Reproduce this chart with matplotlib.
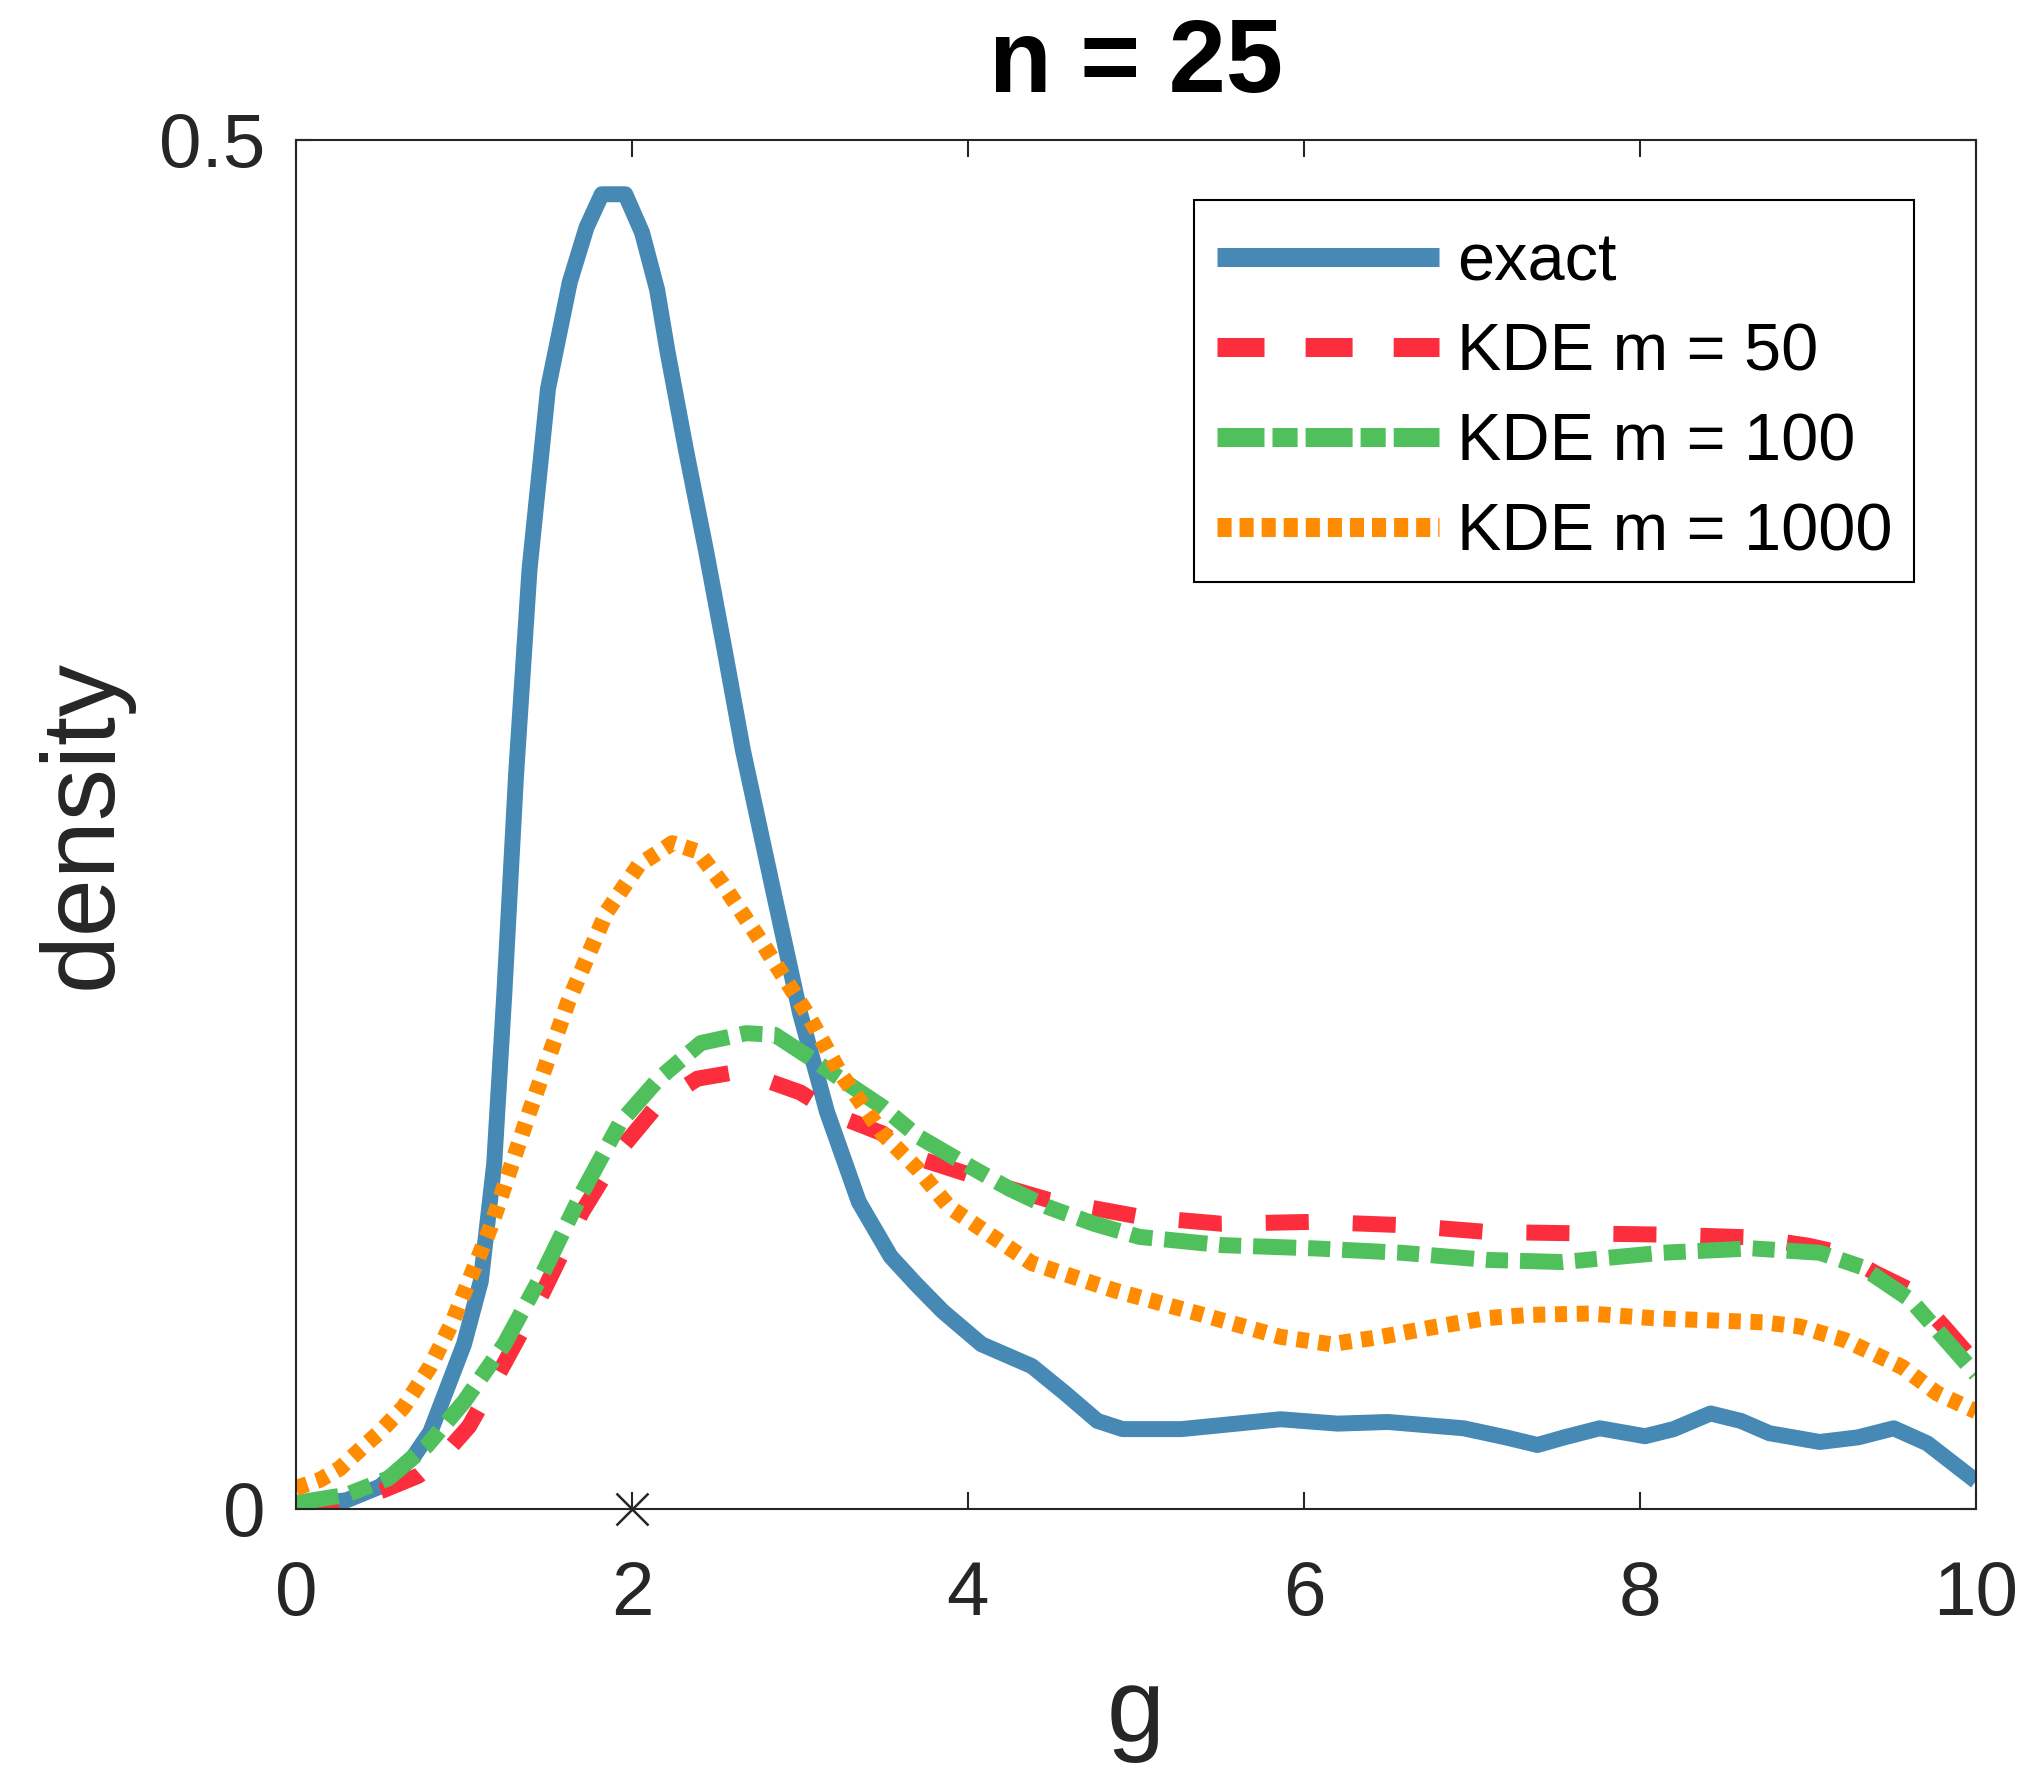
import matplotlib
matplotlib.use("Agg")
import matplotlib.pyplot as plt
from matplotlib.lines import Line2D
from matplotlib.patches import Rectangle

plt.rcParams['font.family'] = ['Liberation Sans', 'DejaVu Sans']

# ---------------- data ----------------
exact_x = [0, 0.3, 0.5, 0.7, 0.8, 0.9, 1.0, 1.1, 1.18, 1.24, 1.31, 1.39, 1.5, 1.63,
           1.73, 1.82, 1.96, 2.06, 2.15, 2.21, 2.32, 2.44, 2.55, 2.66, 2.85, 3.0,
           3.16, 3.35, 3.54, 3.69, 3.85, 4.08, 4.38, 4.58, 4.77, 4.92, 5.27, 5.6,
           5.86, 6.2, 6.5, 6.95, 7.2, 7.39, 7.55, 7.76, 8.03, 8.2, 8.42, 8.6, 8.77,
           9.07, 9.3, 9.51, 9.71, 10]
exact_y = [0.001, 0.003, 0.008, 0.019, 0.028, 0.044, 0.060, 0.083, 0.126, 0.188,
           0.268, 0.343, 0.409, 0.448, 0.468, 0.480, 0.480, 0.466, 0.445, 0.423,
           0.387, 0.350, 0.314, 0.277, 0.223, 0.181, 0.145, 0.112, 0.092, 0.082,
           0.072, 0.060, 0.052, 0.042, 0.032, 0.029, 0.029, 0.031, 0.0326, 0.031,
           0.0316, 0.0293, 0.026, 0.0232, 0.026, 0.0293, 0.0264, 0.029, 0.0347,
           0.032, 0.0275, 0.0243, 0.026, 0.0293, 0.0238, 0.010]

kde50_x = [0, 0.3, 0.52, 0.73, 0.9, 1.03, 1.24, 1.47, 1.70, 1.93, 2.16, 2.39, 2.58,
           2.77, 3.0, 3.24, 3.49, 3.7, 3.98, 4.24, 4.48, 5.02, 5.51, 6.06, 6.58,
           7.09, 7.64, 8.16, 8.67, 9.0, 9.19, 9.4, 9.61, 9.8, 10]
kde50_y = [0.0, 0.002, 0.0067, 0.012, 0.021, 0.030, 0.053, 0.079, 0.108, 0.131,
           0.148, 0.157, 0.159, 0.157, 0.152, 0.143, 0.137, 0.128, 0.1225, 0.117,
           0.1127, 0.1066, 0.104, 0.1047, 0.1035, 0.101, 0.1005, 0.100, 0.099,
           0.096, 0.0934, 0.086, 0.0797, 0.067, 0.053]

kde100_x = [0, 0.3, 0.55, 0.78, 1.0, 1.24, 1.47, 1.70, 1.93, 2.16, 2.41, 2.68, 2.85,
            3.05, 3.24, 3.49, 3.7, 3.98, 4.24, 4.48, 4.75, 5.02, 5.51, 6.06, 6.58,
            7.09, 7.54, 8.13, 8.67, 9.07, 9.32, 9.61, 10]
kde100_y = [0.002, 0.005, 0.011, 0.023, 0.039, 0.060, 0.086, 0.115, 0.141, 0.157,
            0.170, 0.1736, 0.173, 0.165, 0.157, 0.1467, 0.136, 0.126, 0.117, 0.110,
            0.104, 0.0992, 0.0962, 0.095, 0.0934, 0.0908, 0.090, 0.0934, 0.095,
            0.0934, 0.0882, 0.0762, 0.049]

kde1000_x = [0, 0.14, 0.26, 0.39, 0.5, 0.64, 0.8, 0.93, 1.16, 1.39, 1.62, 1.85, 2.04,
             2.24, 2.39, 2.54, 2.77, 3.05, 3.24, 3.49, 3.7, 3.89, 4.38, 4.87, 5.37,
             5.86, 6.16, 6.46, 6.75, 7.08, 7.34, 7.7, 8.08, 8.73, 8.95, 9.22, 9.56,
             9.77, 10]
kde1000_y = [0.0075, 0.0104, 0.0146, 0.022, 0.028, 0.037, 0.052, 0.068, 0.103, 0.145,
             0.185, 0.218, 0.235, 0.243, 0.240, 0.228, 0.207, 0.180, 0.159, 0.137,
             0.124, 0.110, 0.0896, 0.0797, 0.0712, 0.0627, 0.060, 0.0627, 0.066,
             0.0695, 0.0707, 0.0712, 0.0695, 0.068, 0.0665, 0.0615, 0.0517, 0.042,
             0.0355]

true_g = [2.0]
true_density = [0.0]

labels = ['exact', 'KDE m = 50', 'KDE m = 100', 'KDE m = 1000']
title = 'n = 25'
xticks = [0, 2, 4, 6, 8, 10]
yticks = [0, 0.5]
ytick_labels = ['0', '0.5']

# ---------------- style ----------------
c_blue = '#4689B4'
c_red = '#FC2D3C'
c_green = '#50C05C'
c_orange = '#FF8C00'
ink = '#262626'

LW = 11.5          # pt
LW_LEG = 13.7      # pt (≈19 px)
s = 10.8 / LW      # keep dash lengths in pixels as measured

fig = plt.figure(figsize=(20.25, 17.7), dpi=100)
ax = fig.add_axes([296 / 2025, 1 - 1508.5 / 1770, 1680 / 2025, 1369 / 1770])

ax.plot(exact_x, exact_y, color=c_blue, lw=LW, solid_joinstyle='round',
        solid_capstyle='butt')
ax.plot(kde50_x, kde50_y, color=c_red, lw=LW, dashes=(2.87 * s, 2.93 * s),
        dash_capstyle='butt')
ax.plot(kde100_x, kde100_y, color=c_green, lw=LW,
        dashes=(2.87 * s, 0.8 * s, 1.47 * s, 0.8 * s), dash_capstyle='butt')
ax.plot(kde1000_x, kde1000_y, color=c_orange, lw=LW, dashes=(0.8 * s, 0.65 * s),
        dash_capstyle='butt')
ax.plot(true_g, true_density, linestyle='none', marker='x', ms=23, mew=1.8,
        color=ink, clip_on=False, zorder=6)

ax.set_xlim(0, 10)
ax.set_ylim(0, 0.5)
ax.set_xticks(xticks)
ax.set_yticks(yticks)
ax.set_yticklabels(ytick_labels)

for sp in ax.spines.values():
    sp.set_color(ink)
    sp.set_linewidth(1.5)
ax.tick_params(direction='in', length=12.5, width=1.5, color=ink, top=True,
               right=True, labelsize=55, labelcolor=ink)
ax.tick_params(axis='x', pad=37)
ax.tick_params(axis='y', pad=22)

ax.set_title(title, fontsize=74, fontweight='bold', pad=34)
ax.set_xlabel('g', fontsize=75, color=ink)
ax.set_ylabel('density', fontsize=75, color=ink)
ax.xaxis.set_label_coords(0.5, -0.115)
ax.yaxis.set_label_coords(-0.097, 0.5)

# legend frame (drawn separately so the entries can sit where the reference has them)
fx0, fx1 = 898 / 1680, 1618 / 1680
fy1, fy0 = 1308.5 / 1369, 926.5 / 1369
ax.add_patch(Rectangle((fx0, fy0), fx1 - fx0, fy1 - fy0, transform=ax.transAxes,
                       facecolor='white', edgecolor='black', linewidth=1.5,
                       zorder=4.5))

handles = [
    Line2D([], [], color=c_blue, lw=LW_LEG, solid_capstyle='butt'),
    Line2D([], [], color=c_red, lw=LW_LEG, dashes=(2.47, 2.16), dash_capstyle='butt'),
    Line2D([], [], color=c_green, lw=LW_LEG, dashes=(2.47, 0.42, 1.32, 0.42),
           dash_capstyle='butt'),
    Line2D([], [], color=c_orange, lw=LW_LEG, dashes=(0.74, 0.42), dash_capstyle='butt'),
]
leg = ax.legend(handles, labels, loc='upper left',
                bbox_to_anchor=(fx0, fy1 - 9 / 1369), borderaxespad=0,
                fontsize=48, handlelength=3.33, handletextpad=0.27,
                labelspacing=0.42, borderpad=0.35, frameon=False)
leg.set_zorder(5)

fig.savefig('out.png', dpi=100)
